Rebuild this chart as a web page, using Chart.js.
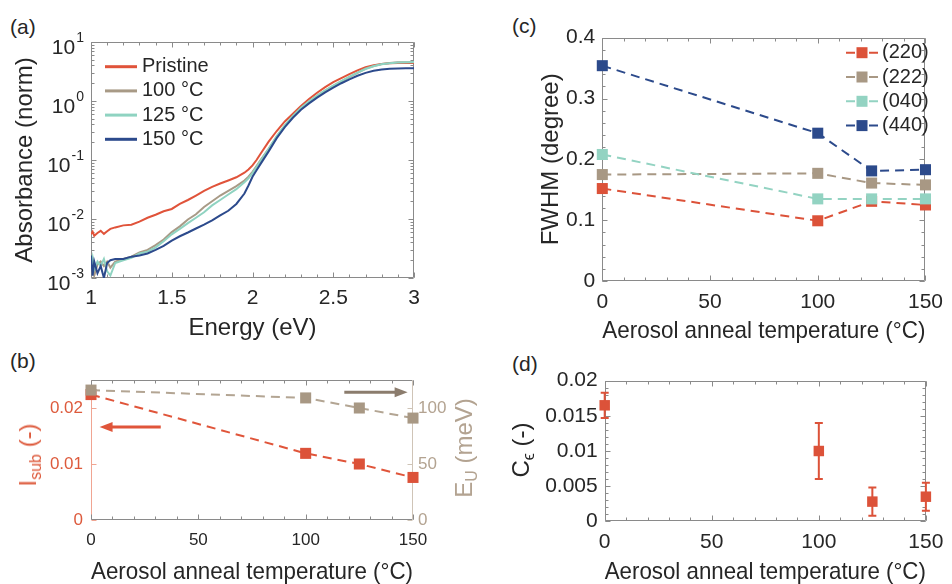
<!DOCTYPE html>
<html lang="en">
<head>
<meta charset="UTF-8">
<title>Absorbance, FWHM and strain vs aerosol anneal temperature</title>
<script src="https://cdn.jsdelivr.net/npm/chart.js"></script>
<style>
  html, body { margin: 0; padding: 0; background: #fff; overflow: hidden; }
  body { width: 952px; height: 584px; position: relative; font-family: 'Liberation Sans', Arial, Helvetica, sans-serif; color: #262626; }
  canvas { position: absolute; }
  .tag { position: absolute; font-size: 21px; line-height: 1; }
  .ytitle { position: absolute; font-size: 24px; line-height: 1; white-space: nowrap; transform: translate(-50%, -50%) rotate(-90deg); }
  .ytitle sub { font-size: 16px; vertical-align: -5px; }
</style>
</head>
<body>
<div class="tag" style="left:10px; top:16px;">(a)</div>
<div class="tag" style="left:10px; top:350px;">(b)</div>
<div class="tag" style="left:512px; top:15px;">(c)</div>
<div class="tag" style="left:512px; top:353px;">(d)</div>

<canvas id="absChart" width="480" height="345" style="left:0; top:0;"></canvas>
<canvas id="fwhmChart" width="472" height="350" style="left:480px; top:0;"></canvas>
<canvas id="urbachChart" width="480" height="250" style="left:0; top:340px;"></canvas>
<canvas id="strainChart" width="472" height="250" style="left:480px; top:340px;"></canvas>

<div class="ytitle" style="left:30px; top:455px; color:#dd5a3c;">I<sub>sub</sub> (-)</div>
<div class="ytitle" style="left:466px; top:448px; color:#b3a391;">E<sub>U</sub> (meV)</div>
<div class="ytitle" style="left:523px; top:450px;">C<sub>ϵ</sub> (-)</div>

<script>
// ---- (a) absorbance spectra ----
const energy = [1.00, 1.01, 1.02, 1.04, 1.06, 1.08, 1.10, 1.12, 1.15,
  1.20, 1.25, 1.30, 1.35, 1.40, 1.45, 1.50, 1.55, 1.60, 1.65,
  1.70, 1.75, 1.80, 1.85, 1.90, 1.95, 1.975, 2.00, 2.025, 2.05, 2.10, 2.15,
  2.20, 2.25, 2.30, 2.35, 2.40, 2.45, 2.50, 2.55, 2.60, 2.65,
  2.70, 2.75, 2.80, 2.85, 2.90, 2.95, 3.00];
const absPristine = [0.0055, 0.0061, 0.0052, 0.0058, 0.0063, 0.0056, 0.0062, 0.0068, 0.0072,
  0.0078, 0.0080, 0.0090, 0.0105, 0.0118, 0.0135, 0.0148, 0.018, 0.021, 0.025,
  0.030, 0.035, 0.040, 0.045, 0.051, 0.061, 0.069, 0.081, 0.100, 0.128, 0.205, 0.31,
  0.45, 0.61, 0.82, 1.08, 1.38, 1.72, 2.08, 2.45, 2.85, 3.3,
  3.75, 4.05, 4.25, 4.35, 4.4, 4.42, 4.42];
const abs100 = [0.0012, 0.0016, 0.0011, 0.0017, 0.0019, 0.0016, 0.0019, 0.0015, 0.0019,
  0.0021, 0.0023, 0.0027, 0.0030, 0.0036, 0.0045, 0.0060, 0.0075, 0.0098, 0.012,
  0.016, 0.020, 0.025, 0.030, 0.036, 0.045, 0.052, 0.063, 0.079, 0.10, 0.155, 0.25,
  0.38, 0.55, 0.75, 0.97, 1.22, 1.5, 1.8, 2.15, 2.55, 3.0,
  3.55, 3.92, 4.22, 4.42, 4.52, 4.55, 4.52];
const abs125 = [0.0016, 0.0022, 0.0014, 0.0019, 0.0016, 0.0021, 0.0013, 0.0011, 0.0018,
  0.0020, 0.0022, 0.0026, 0.0028, 0.0033, 0.0042, 0.0055, 0.0068, 0.0085, 0.0105,
  0.013, 0.017, 0.021, 0.026, 0.032, 0.042, 0.049, 0.060, 0.076, 0.097, 0.155, 0.255,
  0.39, 0.56, 0.77, 0.99, 1.24, 1.52, 1.82, 2.18, 2.58, 3.02,
  3.48, 3.88, 4.18, 4.38, 4.48, 4.55, 4.6];
const abs150 = [0.0024, 0.0011, 0.0019, 0.0012, 0.0016, 0.0010, 0.0018, 0.0020, 0.0021,
  0.0021, 0.0023, 0.0024, 0.0026, 0.0030, 0.0035, 0.0043, 0.0051, 0.0059, 0.0069,
  0.0080, 0.0095, 0.0115, 0.0138, 0.018, 0.027, 0.037, 0.052, 0.067, 0.086, 0.14, 0.235,
  0.36, 0.52, 0.71, 0.91, 1.14, 1.40, 1.68, 2.0, 2.33, 2.68,
  3.0, 3.25, 3.42, 3.52, 3.56, 3.58, 3.58];
const absLabels = ['Pristine', '100 °C', '125 °C', '150 °C'];
const decadeExps = [-3, -2, -1, 0, 1];

// ---- (b) sub-gap intensity and Urbach energy ----
const tempB = [0, 100, 125, 150];
const iSub = [0.0224, 0.0119, 0.0100, 0.0076];
const eU = [116, 109, 100, 91];
const iSubTicks = [0, 0.01, 0.02];
const eUTicks = [0, 50, 100];

// ---- (c) FWHM per reflection ----
const tempC = [0, 100, 125, 150];
const fwhmLabels = ['(220)', '(222)', '(040)', '(440)'];
const fwhm220 = [0.152, 0.099, 0.131, 0.125];
const fwhm222 = [0.175, 0.177, 0.161, 0.158];
const fwhm040 = [0.208, 0.135, 0.135, 0.135];
const fwhm440 = [0.354, 0.243, 0.181, 0.183];

// ---- (d) strain coefficient ----
const tempD = [0, 100, 125, 150];
const cEps = [0.0165, 0.0100, 0.0028, 0.0035];
const cEpsErr = [0.0018, 0.0040, 0.0020, 0.0020];

const RED = '#dc5239', TAN = '#a89884', TEAL = '#93d3c2', NAVY = '#2c4a8b';
const INK = '#262626', AXIS = '#8a8a8a';

Chart.defaults.font.family = "'Liberation Sans', Arial, Helvetica, sans-serif";
Chart.defaults.color = INK;

function range(a, b, step) {
  const out = [];
  for (let v = a; v <= b + step / 1000; v += step) out.push(+v.toFixed(6));
  return out;
}
const pts = (xs, ys) => xs.map((x, i) => ({ x: x, y: ys[i] }));

// box around the plot area with inward tick marks (MATLAB style)
const framePlugin = {
  id: 'frame',
  beforeDatasetsDraw(chart, args, o) {
    const { ctx, chartArea: a } = chart;
    const xs = chart.scales.x;
    const yl = chart.scales[o.left || 'y'];
    const yr = chart.scales[o.right || o.left || 'y'];
    const L = Math.round(a.left) + 0.5, R = Math.round(a.right) - 0.5;
    const T = Math.round(a.top) + 0.5, B = Math.round(a.bottom) - 0.5;
    const seg = (x1, y1, x2, y2, c) => {
      ctx.strokeStyle = c; ctx.beginPath(); ctx.moveTo(x1, y1); ctx.lineTo(x2, y2); ctx.stroke();
    };
    const c = o.color || AXIS, cl = o.leftColor || c, cr = o.rightColor || c;
    ctx.save();
    ctx.lineWidth = 1;
    seg(L, T, R, T, c); seg(L, B, R, B, c);
    seg(L, T, L, B, cl); seg(R, T, R, B, cr);
    [[o.xMajor, 5], [o.xMinor, 3]].forEach(([vals, len]) => (vals || []).forEach(v => {
      const p = Math.round(xs.getPixelForValue(v)) + 0.5;
      seg(p, B, p, B - len, c); seg(p, T, p, T + len, c);
    }));
    [[o.yMajor, 5], [o.yMinor, 3]].forEach(([vals, len]) => (vals || []).forEach(v => {
      const p = Math.round(yl.getPixelForValue(v)) + 0.5;
      seg(L, p, L + len, p, cl);
    }));
    [[o.yrMajor || o.yMajor, 5], [o.yrMinor || o.yMinor, 3]].forEach(([vals, len]) => (vals || []).forEach(v => {
      const p = Math.round(yr.getPixelForValue(v)) + 0.5;
      seg(R, p, R - len, p, cr);
    }));
    ctx.restore();
  }
};

// legend drawn inside the plot area
const keyPlugin = {
  id: 'key',
  afterDatasetsDraw(chart, args, o) {
    const ctx = chart.ctx;
    ctx.save();
    ctx.font = o.font;
    ctx.textBaseline = 'middle';
    ctx.textAlign = 'left';
    chart.data.datasets.forEach((ds, i) => {
      const y = o.y + i * o.dy;
      ctx.strokeStyle = ds.borderColor;
      ctx.lineWidth = o.lineWidth;
      ctx.beginPath();
      if (o.marker) {
        const m = (o.x1 + o.x2) / 2;
        ctx.moveTo(o.x1, y); ctx.lineTo(m - 7, y);
        ctx.moveTo(m + 7, y); ctx.lineTo(o.x2, y);
        ctx.stroke();
        ctx.fillStyle = ds.backgroundColor;
        ctx.fillRect(m - 5.5, y - 5.5, 11, 11);
      } else {
        ctx.moveTo(o.x1, y); ctx.lineTo(o.x2, y);
        ctx.stroke();
      }
      ctx.fillStyle = INK;
      ctx.fillText(ds.label, o.tx, y);
    });
    ctx.restore();
  }
};

// 10^n labels for the log axis
const powPlugin = {
  id: 'pow',
  afterDraw(chart, args, o) {
    const { ctx } = chart;
    const ys = chart.scales.y;
    ctx.save();
    ctx.fillStyle = INK;
    ctx.textAlign = 'right';
    ctx.textBaseline = 'middle';
    decadeExps.forEach(k => {
      const py = ys.getPixelForValue(Math.pow(10, k));
      ctx.font = '14px ' + Chart.defaults.font.family;
      const exp = String(k);
      const w = ctx.measureText(exp).width;
      ctx.fillText(exp, o.right, py - 4);
      ctx.font = '21px ' + Chart.defaults.font.family;
      ctx.fillText('10', o.right - w - 1, py + 6);
    });
    ctx.restore();
  }
};

// vertical error bars from dataset.errors
const errPlugin = {
  id: 'errs',
  beforeDatasetsDraw(chart, args, o) {
    const { ctx } = chart;
    const xs = chart.scales.x, ys = chart.scales.y;
    chart.data.datasets.forEach(ds => {
      if (!ds.errors) return;
      ctx.save();
      ctx.strokeStyle = ds.borderColor;
      ctx.lineWidth = 2;
      ds.data.forEach((p, i) => {
        const e = ds.errors[i];
        const px = xs.getPixelForValue(p.x);
        const y1 = ys.getPixelForValue(p.y - e), y2 = ys.getPixelForValue(p.y + e);
        ctx.beginPath();
        ctx.moveTo(px, y1); ctx.lineTo(px, y2);
        ctx.moveTo(px - o.cap, y1); ctx.lineTo(px + o.cap, y1);
        ctx.moveTo(px - o.cap, y2); ctx.lineTo(px + o.cap, y2);
        ctx.stroke();
      });
      ctx.restore();
    });
  }
};

// arrows pointing to the axis each series belongs to
const arrowNotes = [
  { scale: 'yL', y: 0.0166, from: 32.5, to: 4, color: '#e0553a' },
  { scale: 'yR', y: 114, from: 118, to: 147.5, color: '#8b7c6d' }
];
const arrowPlugin = {
  id: 'arrows',
  afterDatasetsDraw(chart) {
    const { ctx } = chart;
    const xs = chart.scales.x;
    arrowNotes.forEach(n => {
      const ys = chart.scales[n.scale];
      const py = ys.getPixelForValue(n.y);
      const x1 = xs.getPixelForValue(n.from), x2 = xs.getPixelForValue(n.to);
      const dir = Math.sign(x2 - x1);
      ctx.save();
      ctx.strokeStyle = n.color; ctx.fillStyle = n.color;
      ctx.lineWidth = 3;
      ctx.beginPath(); ctx.moveTo(x1, py); ctx.lineTo(x2 - dir * 10, py); ctx.stroke();
      ctx.beginPath();
      ctx.moveTo(x2, py);
      ctx.lineTo(x2 - dir * 13, py - 5);
      ctx.lineTo(x2 - dir * 13, py + 5);
      ctx.closePath(); ctx.fill();
      ctx.restore();
    });
  }
};

const noGrid = { display: false, drawTicks: false };
const noBorder = { display: false };
const common = {
  responsive: false,
  animation: false,
  events: [],
  elements: { line: { tension: 0 } }
};

// ---------- (a) ----------
new Chart(document.getElementById('absChart'), {
  type: 'line',
  data: {
    datasets: [
      { label: absLabels[0], data: pts(energy, absPristine), borderColor: '#e0533a', order: 4 },
      { label: absLabels[1], data: pts(energy, abs100), borderColor: '#a89a86', order: 3 },
      { label: absLabels[2], data: pts(energy, abs125), borderColor: '#8fd3c1', order: 2 },
      { label: absLabels[3], data: pts(energy, abs150), borderColor: '#2c4a8c', order: 1 }
    ].map(d => Object.assign(d, { borderWidth: 2, pointRadius: 0, fill: false, clip: 0 }))
  },
  options: Object.assign({}, common, {
    layout: { padding: { left: 0, right: 66, top: 42, bottom: 0 } },
    scales: {
      x: {
        type: 'linear', min: 1, max: 3,
        ticks: { stepSize: 0.5, font: { size: 21 }, color: INK, padding: 8, maxRotation: 0, autoSkip: false,
          callback: v => String(+v.toFixed(1)) },
        grid: noGrid, border: noBorder,
        title: { display: true, text: 'Energy (eV)', font: { size: 24 }, color: INK, padding: { top: 0, bottom: 2.6 } },
        afterFit: s => { s.height = 67; }
      },
      y: {
        type: 'logarithmic', min: 0.001, max: 10,
        ticks: { display: false },
        grid: noGrid, border: noBorder,
        title: { display: true, text: 'Absorbance (norm)', font: { size: 24 }, color: INK, padding: { top: 10.6, bottom: 0 } },
        afterFit: s => { s.width = 91; }
      }
    },
    plugins: {
      legend: { display: false }, tooltip: { enabled: false },
      frame: {
        xMajor: range(1, 3, 0.5), xMinor: range(1, 3, 0.1),
        yMajor: decadeExps.map(k => Math.pow(10, k)),
        yMinor: decadeExps.slice(0, -1).flatMap(k => [2, 3, 4, 5, 6, 7, 8, 9].map(m => m * Math.pow(10, k)))
      },
      key: { x1: 105, x2: 137, tx: 142, y: 66.7, dy: 24.2, lineWidth: 3, font: '20px ' + Chart.defaults.font.family },
      pow: { right: 84 }
    }
  }),
  plugins: [framePlugin, keyPlugin, powPlugin]
});

// ---------- (b) ----------
new Chart(document.getElementById('urbachChart'), {
  type: 'line',
  data: {
    datasets: [
      { label: 'I_sub', data: pts(tempB, iSub), yAxisID: 'yL', borderColor: '#e0553a', backgroundColor: '#dc5239', order: 2 },
      { label: 'E_U', data: pts(tempB, eU), yAxisID: 'yR', borderColor: '#b3a593', backgroundColor: '#a89884', order: 1 }
    ].map(d => Object.assign(d, { borderWidth: 2, borderDash: [9, 6], pointStyle: 'rect', pointRadius: 7.8, pointBorderWidth: 0, clip: false }))
  },
  options: Object.assign({}, common, {
    layout: { padding: { left: 0, right: 0, top: 40, bottom: 0 } },
    scales: {
      x: {
        type: 'linear', min: 0, max: 150,
        ticks: { stepSize: 50, font: { size: 17 }, color: INK, padding: 9.8, maxRotation: 0, autoSkip: false },
        grid: noGrid, border: noBorder,
        title: { display: true, text: 'Aerosol anneal temperature (°C)', font: { size: 24 }, color: INK, padding: { top: 0, bottom: 3.6 } },
        afterFit: s => { s.height = 70; }
      },
      yL: {
        type: 'linear', position: 'left', min: 0, max: 0.025,
        afterBuildTicks: s => { s.ticks = iSubTicks.map(v => ({ value: v })); },
        ticks: { font: { size: 17 }, color: '#dd5a3c', padding: 8, callback: v => String(v) },
        grid: noGrid, border: noBorder,
        afterFit: s => { s.width = 91; }
      },
      yR: {
        type: 'linear', position: 'right', min: 0, max: 125,
        afterBuildTicks: s => { s.ticks = eUTicks.map(v => ({ value: v })); },
        ticks: { font: { size: 17 }, color: '#b3a391', padding: 5, callback: v => String(v) },
        grid: noGrid, border: noBorder,
        afterFit: s => { s.width = 67; }
      }
    },
    plugins: {
      legend: { display: false }, tooltip: { enabled: false },
      frame: {
        left: 'yL', right: 'yR', leftColor: '#f0a592', rightColor: '#cfc4b7',
        xMajor: range(0, 150, 50), xMinor: range(0, 150, 10),
        yMajor: iSubTicks, yrMajor: eUTicks
      }
    }
  }),
  plugins: [framePlugin, arrowPlugin]
});

// ---------- (c) ----------
new Chart(document.getElementById('fwhmChart'), {
  type: 'line',
  data: {
    datasets: [
      { label: fwhmLabels[0], data: pts(tempC, fwhm220), borderColor: RED, backgroundColor: RED, order: 4 },
      { label: fwhmLabels[1], data: pts(tempC, fwhm222), borderColor: TAN, backgroundColor: TAN, order: 3 },
      { label: fwhmLabels[2], data: pts(tempC, fwhm040), borderColor: TEAL, backgroundColor: TEAL, order: 2 },
      { label: fwhmLabels[3], data: pts(tempC, fwhm440), borderColor: NAVY, backgroundColor: NAVY, order: 1 }
    ].map(d => Object.assign(d, { borderWidth: 2, borderDash: [9, 6], pointStyle: 'rect', pointRadius: 7.8, pointBorderWidth: 0, clip: false }))
  },
  options: Object.assign({}, common, {
    layout: { padding: { left: 0, right: 19.7, top: 37.7, bottom: 0 } },
    scales: {
      x: {
        type: 'linear', min: 0, max: 150,
        ticks: { stepSize: 50, font: { size: 21 }, color: INK, padding: 9, maxRotation: 0, autoSkip: false },
        grid: noGrid, border: noBorder,
        title: { display: true, text: 'Aerosol anneal temperature (°C)', font: { size: 24 }, color: INK, padding: { top: 0, bottom: 4.6 } },
        afterFit: s => { s.height = 69; }
      },
      y: {
        type: 'linear', min: 0, max: 0.4,
        ticks: { stepSize: 0.1, font: { size: 21 }, color: INK, padding: 7, callback: v => String(+v.toFixed(2)) },
        grid: noGrid, border: noBorder,
        title: { display: true, text: 'FWHM (degree)', font: { size: 24 }, color: INK, padding: { top: 56.6, bottom: 0 } },
        afterFit: s => { s.width = 122.3; }
      }
    },
    plugins: {
      legend: { display: false }, tooltip: { enabled: false },
      frame: {
        xMajor: range(0, 150, 50), xMinor: range(0, 150, 10),
        yMajor: range(0, 0.4, 0.1), yMinor: range(0, 0.4, 0.02)
      },
      key: { x1: 366, x2: 398, tx: 402, y: 52.7, dy: 24.3, lineWidth: 2, marker: true, font: '20px ' + Chart.defaults.font.family }
    }
  }),
  plugins: [framePlugin, keyPlugin]
});

// ---------- (d) ----------
new Chart(document.getElementById('strainChart'), {
  type: 'scatter',
  data: {
    datasets: [
      { label: 'C_eps', data: pts(tempD, cEps), errors: cEpsErr, borderColor: '#dc5239', backgroundColor: '#dc5239',
        pointStyle: 'rect', pointRadius: 7.4, pointBorderWidth: 0, clip: false }
    ]
  },
  options: Object.assign({}, common, {
    layout: { padding: { left: 0, right: 21.3, top: 40.7, bottom: 0 } },
    scales: {
      x: {
        type: 'linear', min: 0, max: 150,
        ticks: { stepSize: 50, font: { size: 21 }, color: INK, padding: 8.6, maxRotation: 0, autoSkip: false },
        grid: noGrid, border: noBorder,
        title: { display: true, text: 'Aerosol anneal temperature (°C)', font: { size: 24 }, color: INK, padding: { top: 0, bottom: 3.6 } },
        afterFit: s => { s.height = 68.7; }
      },
      y: {
        type: 'linear', min: 0, max: 0.02,
        ticks: { stepSize: 0.005, font: { size: 21 }, color: INK, padding: 7, callback: v => String(+v.toFixed(3)) },
        grid: noGrid, border: noBorder,
        afterFit: s => { s.width = 124.7; }
      }
    },
    plugins: {
      legend: { display: false }, tooltip: { enabled: false },
      frame: {
        xMajor: range(0, 150, 50), xMinor: range(0, 150, 10),
        yMajor: range(0, 0.02, 0.005), yMinor: range(0, 0.02, 0.001)
      },
      errs: { cap: 4 }
    }
  }),
  plugins: [framePlugin, errPlugin]
});
</script>
</body>
</html>
